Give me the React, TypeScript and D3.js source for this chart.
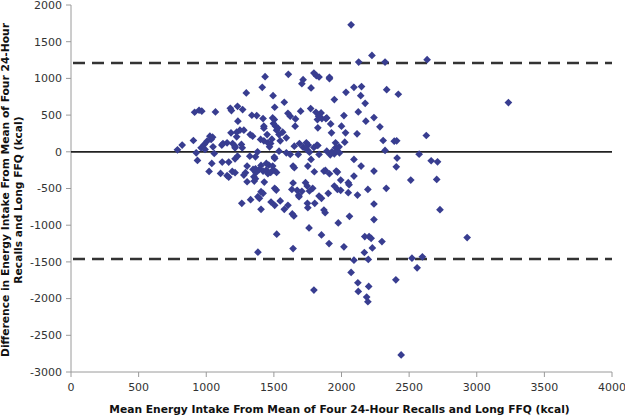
import React from "react";
import * as d3 from "d3";

// Bland-Altman: mean intake (x) vs difference (y), kcal
const meanIntake = [
  2071, 2225, 2127, 2322, 2633, 1435, 1607, 1716, 1707, 1796, 1814, 1834, 1911, 1911, 1775,
  1414, 1296, 1494, 1577, 2092, 2148, 2142, 2033, 1947, 2175, 2334, 2420, 3234, 914, 947,
  967, 1068, 1178, 1186, 1231, 1269, 1234, 1337, 1373, 1420, 1426, 1426, 1506, 1491, 1503,
  1497, 1512, 1520, 1530, 1604, 1621, 1660, 1657, 1698, 1772, 1811, 1849, 1831, 1822, 1855,
  1884, 1825, 1891, 1920, 2000, 2018, 2124, 2240, 2180, 2284, 2030, 2115, 1926, 1956, 2024,
  2308, 2390, 2408, 2627, 2322, 2411, 2405, 2331, 2574, 2663, 2710, 2704, 2512, 2728, 2929,
  2092, 2145, 2240, 2092, 2050, 2056, 2050, 2118, 2195, 2240, 2240, 2059, 1976, 2018, 1908,
  2172, 2204, 2219, 2228, 2299, 2169, 2092, 2198, 2071, 2121, 2124, 2201, 2186, 2195, 2402,
  2521, 2598, 2559, 2441, 1796, 1382, 1642, 1521, 1760, 1852, 1263, 1328, 1405, 1479, 1506,
  1547, 1577, 1604, 1636, 1648, 1686, 1748, 1751, 1802, 1870, 1879, 1902, 1834, 1852, 1787,
  1734, 1746, 1763, 1707, 1642, 1633, 1672, 1683, 1506, 1518, 1429, 1405, 1420, 1382, 1393,
  1367, 1352, 1393, 1420, 1444, 1462, 1444, 1456, 1476, 1497, 1520, 1491, 1503, 1506, 1538,
  1547, 1592, 1538, 1565, 1592, 1621, 1642, 1651, 1680, 1689, 1651, 1716, 1740, 1754, 1743,
  1763, 1775, 1796, 1819, 1751, 1799, 1870, 1911, 1881, 1961, 1970, 1994, 1947, 1970, 1994,
  1947, 1929, 1964, 1956, 1982, 1985, 1917, 1834, 1825, 1891, 1302, 1290, 1278, 1302, 1355,
  1405, 1379, 1364, 1364, 1346, 1325, 1343, 1402, 1426, 1450, 1485, 1476, 1468, 1183, 1225,
  1249, 1278, 1225, 1213, 1213, 1266, 1195, 1154, 1124, 1115, 1027, 1036, 1047, 1006, 985,
  962, 991, 1050, 1059, 926, 935, 905, 822, 787, 1021, 1041, 1118, 1166, 1213, 1106,
  1154, 1166, 1192, 1213, 1364, 1456, 1260, 1231, 1322,
];
const difference = [
  1730, 1313, 1223, 1223, 1255, 1024, 1055, 983, 928, 1073, 1037, 1019, 1014, 996, 870,
  879, 802, 765, 675, 879, 888, 765, 811, 711, 661, 847, 784, 670, 539, 566,
  553, 543, 593, 562, 620, 575, 417, 498, 494, 453, 349, 322, 607, 462, 439,
  385, 349, 294, 322, 525, 485, 448, 349, 553, 589, 539, 530, 485, 439, 453,
  453, 326, 462, 380, 349, 494, 543, 466, 417, 340, 258, 245, 258, 122, 131,
  154, 145, 149, 222, 18, -86, -204, -498, -32, -122, -136, -376, -385, -788, -1168,
  -104, -195, -263, -331, -421, -448, -557, -589, -512, -711, -924, -879, -969, -1295, -1250,
  -1155, -1155, -1178, -1309, -1223, -1372, -1476, -1467, -1644, -1784, -1902, -1834, -1979, -2043, -1744,
  -1449, -1431, -1581, -2767, -1884, -1368, -1318, -1123, -1037, -1132, -702, -652, -784, -684, -729,
  -670, -784, -729, -847, -874, -611, -702, -761, -702, -793, -829, -566, -602, -634, -498,
  -421, -466, -534, -539, -425, -512, -525, -593, -498, -521, -412, -543, -566, -611, -634,
  -285, -340, -240, -263, -249, -181, -158, -299, -281, -245, -281, -195, -72, -91, 9,
  149, 190, 235, 267, -14, -36, -195, -217, -36, 113, 77, 63, 122, 91, 32,
  -5, -104, 59, 91, -195, -272, -263, -299, -254, -263, -276, -385, -466, -512, -525,
  -27, 0, 9, 54, 68, -14, -41, -36, 86, 9, -195, -285, -317, -408, -399,
  -186, 0, -68, -231, -240, 235, 213, 168, 149, 235, 172, 113, 68, 258, 267,
  294, 294, 204, 77, 54, 54, 113, 122, 113, 91, 213, 168, 199, 145, 100,
  54, 32, 68, -23, -14, -118, 154, 91, 27, -267, -158, -140, -140, -95, -294,
  -326, -344, -267, -285, -367, 122, 100, -59, -59,
];

const xTicks = [0, 500, 1000, 1500, 2000, 2500, 3000, 3500, 4000];
const yTicks = [2000, 1500, 1000, 500, 0, -500, -1000, -1500, -2000, -2500, -3000];
const upperLimit = 1210;
const lowerLimit = -1460;

const W = 625;
const H = 417;
const margin = { top: 5, right: 13, bottom: 45, left: 71 };

export default function App() {
  const x = d3.scaleLinear().domain([0, 4000]).range([margin.left, W - margin.right]);
  const y = d3.scaleLinear().domain([-3000, 2000]).range([H - margin.bottom, margin.top]);
  const diamond = d3.symbol().type(d3.symbolDiamond2).size(38)();
  const font = "Verdana, 'DejaVu Sans', sans-serif";
  const axisColor = "#9a9a9a";

  return (
    <svg
      width={W}
      height={H}
      style={{ position: "absolute", left: 0, top: 0, background: "#fff" }}
      fontFamily={font}
    >
      {/* axes */}
      <line x1={x(0)} x2={x(0)} y1={y(2000)} y2={y(-3000)} stroke={axisColor} />
      <line x1={x(0)} x2={x(4000)} y1={y(-3000)} y2={y(-3000)} stroke={axisColor} />
      {yTicks.map((t) => (
        <g key={"y" + t}>
          <line x1={x(0) - 5} x2={x(0)} y1={y(t)} y2={y(t)} stroke={axisColor} />
          <text x={x(0) - 9} y={y(t)} dy="0.35em" textAnchor="end" fontSize={11} fill="#333">
            {t}
          </text>
        </g>
      ))}
      {xTicks.map((t) => (
        <g key={"x" + t}>
          <line x1={x(t)} x2={x(t)} y1={y(-3000)} y2={y(-3000) + 5} stroke={axisColor} />
          <text x={x(t)} y={y(-3000) + 19} textAnchor="middle" fontSize={11} fill="#333">
            {t}
          </text>
        </g>
      ))}

      {/* reference lines */}
      <line x1={x(0)} x2={x(4000)} y1={y(0)} y2={y(0)} stroke="#222" strokeWidth={1.8} />
      {[upperLimit, lowerLimit].map((v) => (
        <line
          key={v}
          x1={x(0) + 2}
          x2={x(4000)}
          y1={y(v)}
          y2={y(v)}
          stroke="#333"
          strokeWidth={2.4}
          strokeDasharray="12,7"
        />
      ))}

      {/* points */}
      {meanIntake.map((m, i) => (
        <path
          key={i}
          d={diamond}
          transform={`translate(${x(m)},${y(difference[i])})`}
          fill="#383d90"
        />
      ))}

      {/* titles */}
      <text
        x={(x(0) + x(4000)) / 2 - 2}
        y={413}
        textAnchor="middle"
        fontSize={10.7}
        fontWeight="bold"
        fill="#111"
      >
        Mean Energy Intake From Mean of Four 24-Hour Recalls and Long FFQ (kcal)
      </text>
      <g transform="translate(9,190) rotate(-90)">
        <text textAnchor="middle" fontSize={10.7} fontWeight="bold" fill="#111">
          Difference in Energy Intake From Mean of Four 24-Hour
        </text>
        <text y={12.5} x={-10} textAnchor="middle" fontSize={10.7} fontWeight="bold" fill="#111">
          Recalls and Long FFQ (kcal)
        </text>
      </g>
    </svg>
  );
}
